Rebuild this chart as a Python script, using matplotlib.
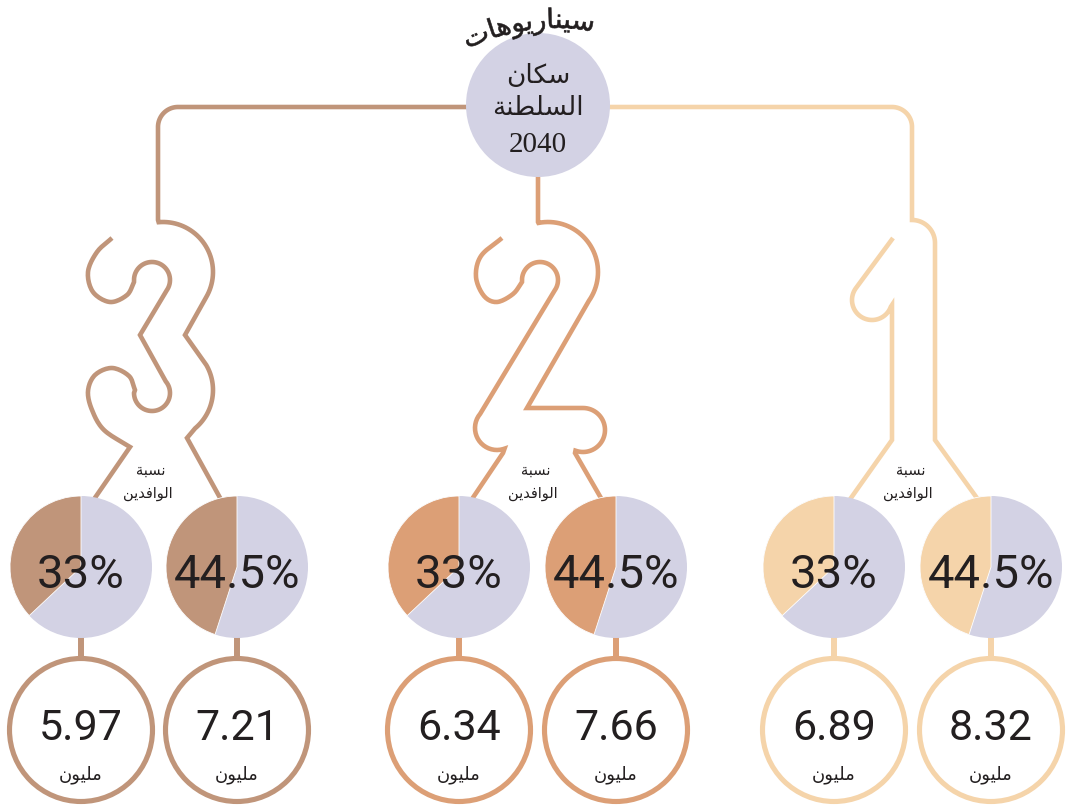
import numpy as np
import matplotlib.pyplot as plt
from matplotlib.path import Path
from matplotlib.patches import Circle, Wedge, PathPatch
from matplotlib.textpath import TextPath
from matplotlib.font_manager import FontProperties

# scenario data, left to right on the page (scenario 3, 2, 1)
scenario_colors = ['#c0957a', '#dc9f76', '#f5d4aa']
expat_labels = ['33%', '44.5%']
expat_wedge = [37, 45]          # wedge share as drawn in the source
population = [[5.97, 7.21], [6.34, 7.66], [6.89, 8.32]]

title = 'سيناريوهات'
center_lines = ['سكان', 'السلطنة']
center_year = '2040'
pie_caption = ['نسبة', 'الوافدين']
unit = 'مليون'

LAV = '#d3d2e4'
INK = '#231f20'

# --- minimal arabic shaping (matplotlib has no complex text layout) ---
FORMS = {
    'ا': (0xFE8D, 0xFE8E, None, None),
    'ب': (0xFE8F, 0xFE90, 0xFE91, 0xFE92),
    'ة': (0xFE93, 0xFE94, None, None),
    'ت': (0xFE95, 0xFE96, 0xFE97, 0xFE98),
    'د': (0xFEA9, 0xFEAA, None, None),
    'ر': (0xFEAD, 0xFEAE, None, None),
    'س': (0xFEB1, 0xFEB2, 0xFEB3, 0xFEB4),
    'ط': (0xFEC1, 0xFEC2, 0xFEC3, 0xFEC4),
    'ف': (0xFED1, 0xFED2, 0xFED3, 0xFED4),
    'ك': (0xFED9, 0xFEDA, 0xFEDB, 0xFEDC),
    'ل': (0xFEDD, 0xFEDE, 0xFEDF, 0xFEE0),
    'م': (0xFEE1, 0xFEE2, 0xFEE3, 0xFEE4),
    'ن': (0xFEE5, 0xFEE6, 0xFEE7, 0xFEE8),
    'ه': (0xFEE9, 0xFEEA, 0xFEEB, 0xFEEC),
    'و': (0xFEED, 0xFEEE, None, None),
    'ي': (0xFEF1, 0xFEF2, 0xFEF3, 0xFEF4),
}


def shape(word):
    out = []
    for i, ch in enumerate(word):
        f = FORMS.get(ch)
        if f is None:
            out.append(ch)
            continue
        prev = word[i - 1] if i > 0 else None
        nxt = word[i + 1] if i + 1 < len(word) else None
        jp = prev in FORMS and FORMS[prev][2] is not None
        jn = nxt in FORMS and f[2] is not None
        if jp and jn:
            code = f[3]
        elif jp:
            code = f[1]
        elif jn:
            code = f[2]
        else:
            code = f[0]
        out.append(chr(code))
    return ''.join(reversed(out))


def arc(cx, cy, r, a1, a2, n=40):
    a = np.radians(np.linspace(a1, a2, n))
    return list(zip(cx + r * np.cos(a), cy - r * np.sin(a)))


def spline(pts, n=12):
    # catmull-rom through hand-read outline points
    P = np.array(pts, float)
    P = np.vstack([2 * P[0] - P[1], P, 2 * P[-1] - P[-2]])
    t = np.linspace(0, 1, n, endpoint=False)[:, None]
    out = []
    for i in range(1, len(P) - 2):
        p0, p1, p2, p3 = P[i - 1], P[i], P[i + 1], P[i + 2]
        out.append(0.5 * (2 * p1 + (p2 - p0) * t + (2 * p0 - 5 * p1 + 4 * p2 - p3) * t ** 2
                          + (3 * p1 - p0 - 3 * p2 + p3) * t ** 3))
    out.append(P[-2][None])
    return [tuple(p) for p in np.vstack(out)]


def draw_line(ax, pts, color, lw=3.3):
    pts = np.array(pts)
    ax.plot(pts[:, 0], pts[:, 1], color=color, lw=lw, solid_capstyle='butt',
            solid_joinstyle='miter', zorder=1)


fig = plt.figure(figsize=(10.69, 8.06), dpi=100)
ax = fig.add_axes([0, 0, 1, 1])
ax.set_xlim(0, 1069)
ax.set_ylim(806, 0)
ax.axis('off')

c3, c2, c1 = scenario_colors

# digit "3" outline (left)
draw_line(ax, [(538, 107), (178, 107)] + arc(178, 127, 20, 90, 180) + [(158, 220)]
          + arc(163, 272, 50, 95, -30) + [(185, 335)] + arc(163, 390, 50, 30, -50)
          + [(187, 438), (224, 505)], c3)
draw_line(ax, spline([(112, 238), (97, 252), (88, 272), (93, 292), (110, 302),
                      (127, 295), (134, 282)])
          + arc(152, 280, 18, 180, -35) + [(140, 335)]
          + arc(152, 393, 18, 40, -180)
          + spline([(135, 390), (129, 376), (112, 368), (95, 375), (88, 391),
                    (92, 410), (104, 430), (130, 447)])
          + [(90, 505)], c3)

# digit "2" outline (middle)
draw_line(ax, [(538, 150), (538, 222)] + arc(548, 272, 50, 101, -35)
          + [(527, 408), (583, 408)] + arc(583, 430, 22, 90, -110)
          + [(575, 453), (605, 505)], c2)
draw_line(ax, spline([(502, 238), (481, 256), (476, 277), (484, 296), (497, 302),
                      (513, 294), (522, 282)])
          + arc(540, 280, 18, 180, -35)
          + arc(497, 428, 22, 140, 290) + [(503, 453), (468, 505)], c2)

# digit "1" outline (right)
draw_line(ax, [(538, 107), (892, 107)] + arc(892, 127, 20, 90, 0) + [(912, 220)]
          + arc(912, 243, 23, 90, 0) + [(935, 440), (982, 505)], c1)
draw_line(ax, [(893, 238)] + arc(872, 300, 20, 145, 340)
          + [(892, 305), (892, 440), (846, 505)], c1)

# central circle
ax.add_patch(Circle((538, 105), 72, fc=LAV, ec='none', zorder=3))
ax.text(538, 83, shape(center_lines[0]), ha='center', va='baseline', fontsize=19,
        family='DejaVu Sans', color=INK, zorder=5)
ax.text(538, 115, shape(center_lines[1]), ha='center', va='baseline', fontsize=19,
        family='DejaVu Sans', color=INK, zorder=5)
ax.text(538, 152, center_year, ha='center', va='baseline', fontsize=21,
        family='Liberation Serif', color=INK, zorder=5)

# curved title over the circle
tp = TextPath((0, 0), shape(title), size=27, prop=FontProperties(family='DejaVu Sans'))
v = tp.vertices.copy()
xc = (v[:, 0].min() + v[:, 0].max()) / 2
acx, acy, R = 556, 226, 198
th_c = np.pi / 2 + np.arcsin((acx - 528) / R)
ang = th_c - (v[:, 0] - xc) / R
rad = R + v[:, 1]
warped = np.column_stack([acx + rad * np.cos(ang), acy - rad * np.sin(ang)])
ax.add_patch(PathPatch(Path(warped, tp.codes), fc=INK, ec=INK, lw=0.4, zorder=5))

# pies and value circles
pie_x = [[81, 237], [459, 616], [834, 991]]
cap_x = [151, 536, 911]
pie_y, val_y, r_pie, r_val = 567, 730, 71, 71.5

for k, col in enumerate(scenario_colors):
    ax.text(cap_x[k], 475, shape(pie_caption[0]), ha='center', va='baseline',
            fontsize=10.5, family='DejaVu Sans', color=INK, zorder=5)
    ax.text(cap_x[k] - 3, 498, shape(pie_caption[1]), ha='center', va='baseline',
            fontsize=10.5, family='DejaVu Sans', color=INK, zorder=5)
    for j in range(2):
        x = pie_x[k][j]
        s = expat_wedge[j] / 100
        ax.add_patch(Circle((x, pie_y), r_pie, fc=LAV, ec='none', zorder=3))
        ax.add_patch(Wedge((x, pie_y), r_pie, -(90 + 360 * s), -90, fc=col,
                           ec='white', lw=0.6, zorder=3))
        ax.text(x, 588, expat_labels[j], ha='center', va='baseline', fontsize=34,
                family='Roboto', color=INK, zorder=5)
        ax.plot([x, x], [pie_y + r_pie - 2, val_y - r_val], color=col, lw=4.3,
                solid_capstyle='butt', zorder=2)
        ax.add_patch(Circle((x, val_y), r_val, fc='white', ec=col, lw=3.7, zorder=3))
        ax.text(x, 740, f'{population[k][j]:.2f}', ha='center', va='baseline',
                fontsize=31, family='Roboto', color=INK, zorder=5)
        ax.text(x, 779, shape(unit), ha='center', va='baseline', fontsize=13,
                family='DejaVu Sans', color=INK, zorder=5)

fig.savefig('out.png', dpi=100)
